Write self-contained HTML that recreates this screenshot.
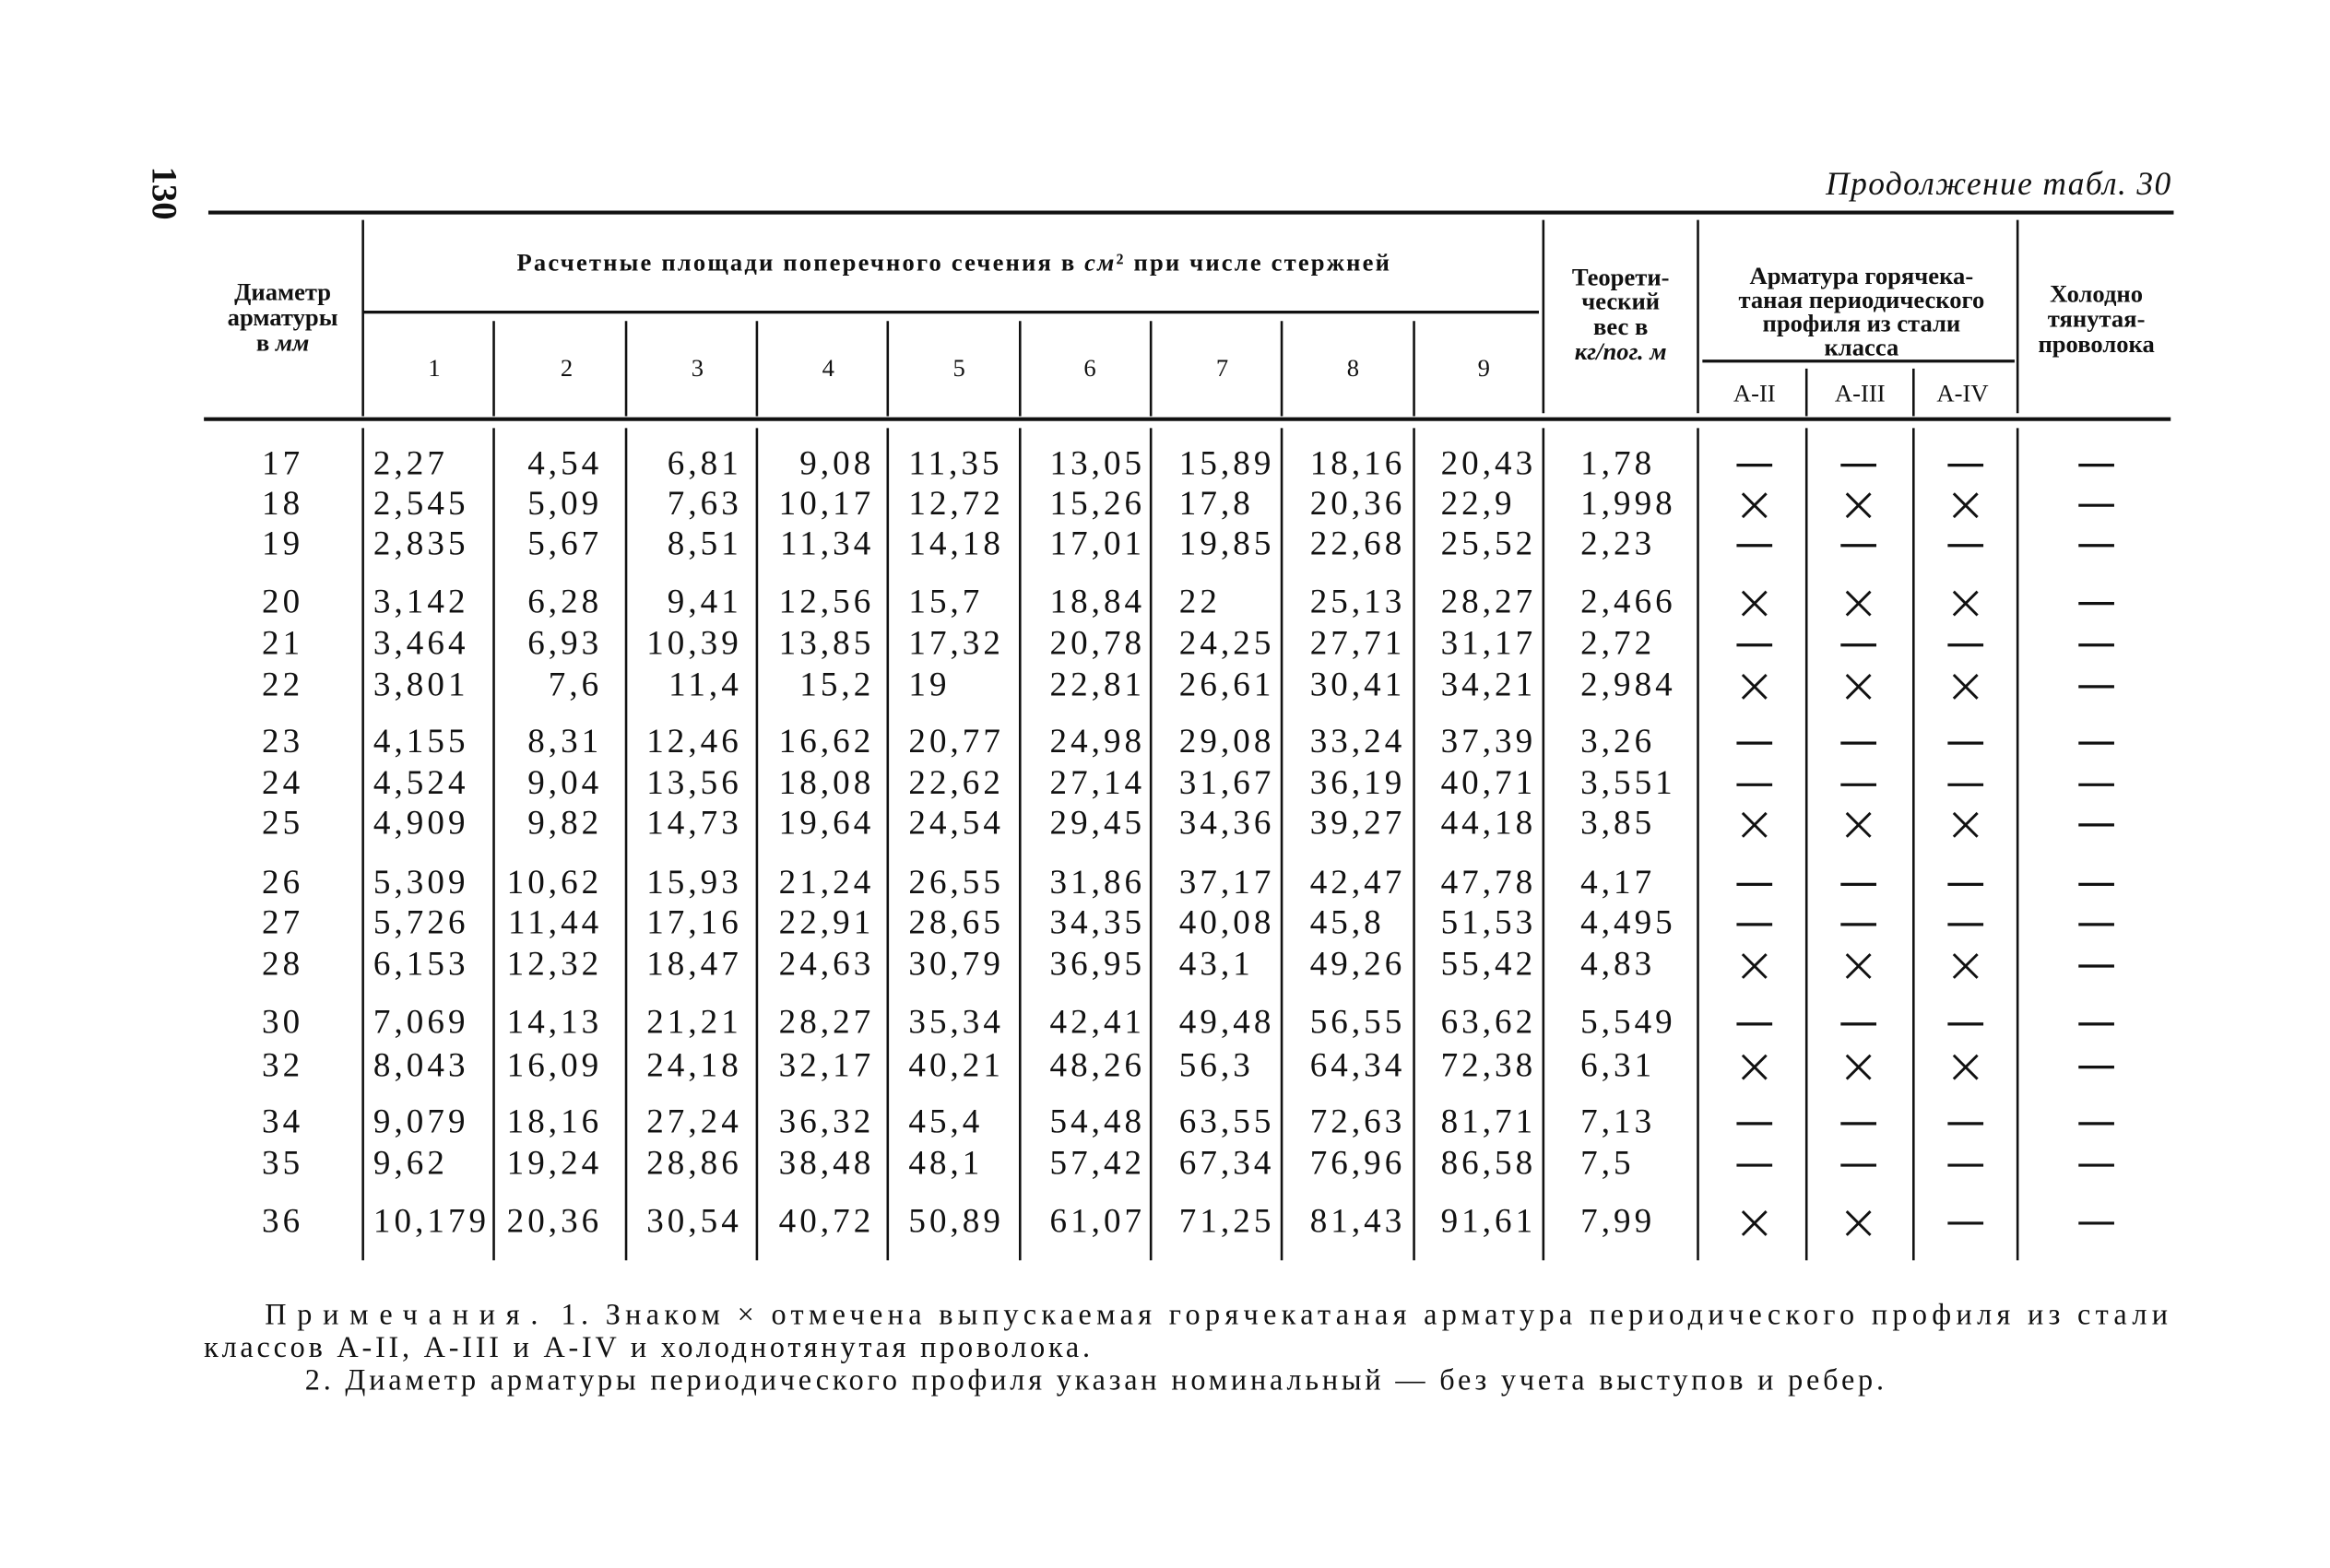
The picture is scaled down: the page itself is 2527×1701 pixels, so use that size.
<!DOCTYPE html>
<html><head><meta charset="utf-8"><style>
html,body{margin:0;padding:0;background:#fff;}
svg{display:block;}
text{font-family:"Liberation Serif",serif;fill:#111;}
.h{font-family:"Liberation Sans Narrow","Liberation Sans",sans-serif;font-size:16.5px;font-weight:bold;}
.n{font-size:23px;letter-spacing:2.5px;}
</style></head><body>
<svg width="2527" height="1701" viewBox="0 0 1567 1055" xmlns="http://www.w3.org/2000/svg">
<g stroke="#111" fill="none">
<line x1="140" y1="143" x2="1462" y2="143" stroke-width="2.5"/>
<line x1="244" y1="210" x2="1035" y2="210" stroke-width="2"/>
<line x1="1145" y1="243" x2="1355" y2="243" stroke-width="2"/>
<line x1="137" y1="282" x2="1460" y2="282" stroke-width="2.5"/>
<g stroke-width="1.6">
<line x1="244" y1="148" x2="244" y2="280"/>
<line x1="1038" y1="148" x2="1038" y2="278"/>
<line x1="1142" y1="148" x2="1142" y2="278"/>
<line x1="1357" y1="148" x2="1357" y2="278"/>
<line x1="332" y1="216" x2="332" y2="280"/><line x1="421" y1="216" x2="421" y2="280"/>
<line x1="509" y1="216" x2="509" y2="280"/><line x1="597" y1="216" x2="597" y2="280"/>
<line x1="686" y1="216" x2="686" y2="280"/><line x1="774" y1="216" x2="774" y2="280"/>
<line x1="862" y1="216" x2="862" y2="280"/><line x1="951" y1="216" x2="951" y2="280"/>
<line x1="1215" y1="248" x2="1215" y2="280"/><line x1="1287" y1="248" x2="1287" y2="280"/>
<line x1="244" y1="288" x2="244" y2="848"/><line x1="332" y1="288" x2="332" y2="848"/>
<line x1="421" y1="288" x2="421" y2="848"/><line x1="509" y1="288" x2="509" y2="848"/>
<line x1="597" y1="288" x2="597" y2="848"/><line x1="686" y1="288" x2="686" y2="848"/>
<line x1="774" y1="288" x2="774" y2="848"/><line x1="862" y1="288" x2="862" y2="848"/>
<line x1="951" y1="288" x2="951" y2="848"/><line x1="1038" y1="288" x2="1038" y2="848"/>
<line x1="1142" y1="288" x2="1142" y2="848"/><line x1="1215" y1="288" x2="1215" y2="848"/>
<line x1="1287" y1="288" x2="1287" y2="848"/><line x1="1357" y1="288" x2="1357" y2="848"/>
</g></g>
<text x="108" y="130" transform="rotate(90 108 130)" text-anchor="middle" font-size="24" font-weight="bold" dominant-baseline="middle">130</text>
<text x="1460" y="131" text-anchor="end" font-size="22" font-style="italic" textLength="232">Продолжение  табл. 30</text>
<g class="h" text-anchor="middle">
<text x="190" y="202">Диаметр</text><text x="190" y="219">арматуры</text><text x="190" y="236">в <tspan font-style="italic">мм</tspan></text>
<text x="641" y="182" textLength="587">Расчетные площади поперечного сечения в <tspan font-style="italic">см</tspan>² при числе стержней</text>
<g font-weight="normal"><text x="292" y="253">1</text><text x="381" y="253">2</text><text x="469" y="253">3</text><text x="557" y="253">4</text><text x="645" y="253">5</text><text x="733" y="253">6</text><text x="822" y="253">7</text><text x="910" y="253">8</text><text x="998" y="253">9</text></g>
<text x="1090" y="192">Теорети-</text><text x="1090" y="208">ческий</text><text x="1090" y="225">вес в</text><text x="1090" y="242" font-style="italic">кг/пог. м</text>
<text x="1252" y="191">Арматура горячека-</text><text x="1252" y="207">таная периодического</text><text x="1252" y="223">профиля из стали</text><text x="1252" y="239">класса</text>
<text x="1180" y="270" font-weight="normal">А-II</text><text x="1251" y="270" font-weight="normal">А-III</text><text x="1320" y="270" font-weight="normal">А-IV</text>
<text x="1410" y="203">Холодно</text><text x="1410" y="220">тянутая-</text><text x="1410" y="237">проволока</text>
</g>
<g class="n" id="rows"></g>
<g font-size="20">
<text x="178" y="891" textLength="1280" lengthAdjust="spacing"><tspan letter-spacing="4">Примечания.</tspan> 1. Знаком × отмечена  выпускаемая  горячекатаная  арматура периодического профиля из стали</text>
<text x="137" y="913" textLength="596" lengthAdjust="spacing">классов А-II, А-III и А-IV и холоднотянутая проволока.</text>
<text x="205" y="935" textLength="1062" lengthAdjust="spacing">2. Диаметр арматуры периодического профиля указан номинальный — без учета выступов и ребер.</text>
</g>
</svg>
<script>
var rows=[[17,311,"2,27","4,54","6,81","9,08","11,35","13,05","15,89","18,16","20,43","1,78","---"],
[18,338,"2,545","5,09","7,63","10,17","12,72","15,26","17,8","20,36","22,9","1,998","xxx"],
[19,365,"2,835","5,67","8,51","11,34","14,18","17,01","19,85","22,68","25,52","2,23","---"],
[20,404,"3,142","6,28","9,41","12,56","15,7","18,84","22","25,13","28,27","2,466","xxx"],
[21,432,"3,464","6,93","10,39","13,85","17,32","20,78","24,25","27,71","31,17","2,72","---"],
[22,460,"3,801","7,6","11,4","15,2","19","22,81","26,61","30,41","34,21","2,984","xxx"],
[23,498,"4,155","8,31","12,46","16,62","20,77","24,98","29,08","33,24","37,39","3,26","---"],
[24,526,"4,524","9,04","13,56","18,08","22,62","27,14","31,67","36,19","40,71","3,551","---"],
[25,553,"4,909","9,82","14,73","19,64","24,54","29,45","34,36","39,27","44,18","3,85","xxx"],
[26,593,"5,309","10,62","15,93","21,24","26,55","31,86","37,17","42,47","47,78","4,17","---"],
[27,620,"5,726","11,44","17,16","22,91","28,65","34,35","40,08","45,8","51,53","4,495","---"],
[28,648,"6,153","12,32","18,47","24,63","30,79","36,95","43,1","49,26","55,42","4,83","xxx"],
[30,687,"7,069","14,13","21,21","28,27","35,34","42,41","49,48","56,55","63,62","5,549","---"],
[32,716,"8,043","16,09","24,18","32,17","40,21","48,26","56,3","64,34","72,38","6,31","xxx"],
[34,754,"9,079","18,16","27,24","36,32","45,4","54,48","63,55","72,63","81,71","7,13","---"],
[35,782,"9,62","19,24","28,86","38,48","48,1","57,42","67,34","76,96","86,58","7,5","---"],
[36,821,"10,179","20,36","30,54","40,72","50,89","61,07","71,25","81,43","91,61","7,99","xx-"]];
var xs=[[190,"middle"],[251,"start"],[405,"end"],[499,"end"],[588,"end"],[611,"start"],[706,"start"],[793,"start"],[881,"start"],[969,"start"],[1063,"start"]];
var s="";
rows.forEach(function(r){var y=r[1]+8;
 for(var i=0;i<11;i++){var v=i==0?r[0]:r[i+1];var x=xs[i][0];
  s+='<text x="'+x+'" y="'+y+'" text-anchor="'+xs[i][1]+'">'+v+'</text>';}
 var m=r[12]+"-",cx=[1180,1250,1322,1410];
 for(var j=0;j<4;j++){var c=cx[j],yy=r[1]+2;
  if(m[j]=="x")s+='<path d="M'+(c-8)+' '+(yy-8)+'L'+(c+8)+' '+(yy+8)+'M'+(c+8)+' '+(yy-8)+'L'+(c-8)+' '+(yy+8)+'" stroke="#111" stroke-width="1.8"/>';
  else s+='<line x1="'+(c-12)+'" y1="'+(yy)+'" x2="'+(c+12)+'" y2="'+(yy)+'" stroke="#111" stroke-width="2"/>';}
});
document.getElementById("rows").innerHTML=s;
</script>
</body></html>
